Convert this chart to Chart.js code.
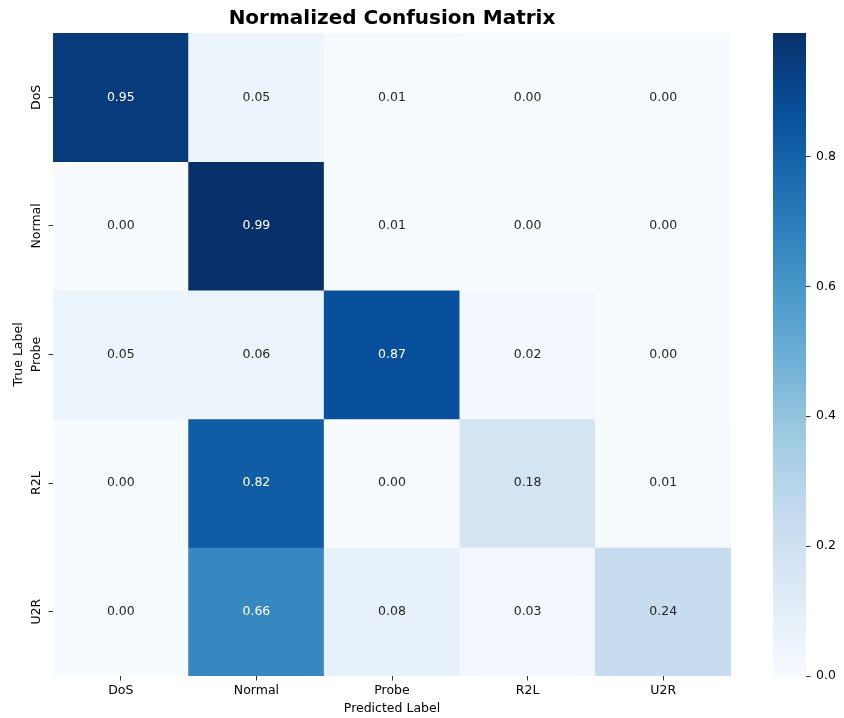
<!DOCTYPE html>
<html><head><meta charset="utf-8">
<script src="https://cdn.jsdelivr.net/npm/chart.js@4.4.1/dist/chart.umd.min.js"></script>
<style>
html,body{margin:0;padding:0;background:#fff;}
#wrap{position:relative;width:844px;height:718px;background:#fff;}
canvas{position:absolute;left:0;top:0;}
</style></head><body>
<div id="wrap"><canvas id="main" width="844" height="718"></canvas><canvas id="cbar" width="844" height="718"></canvas></div>
<script>
// ---- data ----
const predictedLabels = ['DoS', 'Normal', 'Probe', 'R2L', 'U2R'];
const trueLabels = ['DoS', 'Normal', 'Probe', 'R2L', 'U2R'];
const rowDoS    = [0.95, 0.05, 0.01, 0.00, 0.00];
const rowNormal = [0.00, 0.99, 0.01, 0.00, 0.00];
const rowProbe  = [0.05, 0.06, 0.87, 0.02, 0.00];
const rowR2L    = [0.00, 0.82, 0.00, 0.18, 0.01];
const rowU2R    = [0.00, 0.66, 0.08, 0.03, 0.24];
const colorbarTicks = [0.0, 0.2, 0.4, 0.6, 0.8];
const chartTitle = 'Normalized Confusion Matrix';
const xTitle = 'Predicted Label';
const yTitle = 'True Label';

const rows = [rowDoS, rowNormal, rowProbe, rowR2L, rowU2R];
const vmin = 0;
const vmax = Math.max(...rows.flat());

// ---- Blues colormap ----
const BLUES = ['#f7fbff','#deebf7','#c6dbef','#9ecae1','#6baed6','#4292c6','#2171b5','#08519c','#08306b'];
function hex2rgb(h){return [parseInt(h.slice(1,3),16),parseInt(h.slice(3,5),16),parseInt(h.slice(5,7),16)];}
const BLUES_RGB = BLUES.map(hex2rgb);
function blues(t){
  t = Math.max(0, Math.min(1, t));
  const p = t * (BLUES_RGB.length - 1);
  const i = Math.min(Math.floor(p), BLUES_RGB.length - 2);
  const f = p - i;
  const a = BLUES_RGB[i], b = BLUES_RGB[i+1];
  const c = a.map((v,k) => Math.round(v + (b[k]-v)*f));
  return 'rgb(' + c.join(',') + ')';
}
function lum(rgbStr){
  const c = rgbStr.match(/\d+/g).map(Number).map(v => {
    v /= 255; return v <= 0.03928 ? v/12.92 : Math.pow((v+0.055)/1.055, 2.4);
  });
  return 0.2126*c[0] + 0.7152*c[1] + 0.0722*c[2];
}
const FONT = 'DejaVu Sans';
const FS = 12.5;
const TL = 4.5;

// widest y tick label (for centering rotated labels)
const mctx = document.createElement('canvas').getContext('2d');
mctx.font = FS + 'px "' + FONT + '"';
const widestY = Math.max(...trueLabels.map(s => mctx.measureText(s).width));

const datasets = rows.map((vals, r) => ({
  label: trueLabels[r],
  values: vals,
  data: predictedLabels.map(() => [r, r + 1]),
  backgroundColor: vals.map(v => blues((v - vmin) / (vmax - vmin))),
  borderWidth: 0,
  barPercentage: 1,
  categoryPercentage: 1,
  grouped: false
}));

const annotate = {
  id: 'annotate',
  afterDatasetsDraw(chart){
    const ctx = chart.ctx;
    ctx.save();
    ctx.font = FS + 'px "' + FONT + '"';
    ctx.textAlign = 'center';
    ctx.textBaseline = 'middle';
    chart.data.datasets.forEach((ds, r) => {
      const meta = chart.getDatasetMeta(r);
      meta.data.forEach((bar, c) => {
        const col = ds.backgroundColor[c];
        ctx.fillStyle = lum(col) > 0.408 ? '#262626' : '#ffffff';
        ctx.fillText(ds.values[c].toFixed(2), bar.x, (bar.y + bar.base) / 2);
      });
    });
    ctx.restore();
  }
};

new Chart(document.getElementById('main'), {
  type: 'bar',
  data: { labels: predictedLabels, datasets },
  plugins: [annotate],
  options: {
    responsive: false, animation: false, devicePixelRatio: 1,
    layout: { padding: { left: 0, right: 113, top: 0, bottom: 0 } },
    plugins: {
      legend: { display: false },
      tooltip: { enabled: false },
      title: {
        display: true, text: chartTitle, fullSize: false, color: '#000',
        font: { family: FONT, size: 20, weight: 'bold' },
        padding: { top: 6.5, bottom: 2.5 }
      }
    },
    scales: {
      x: {
        type: 'category', offset: true,
        grid: { offset: false, drawOnChartArea: false, drawTicks: true, tickLength: TL, tickColor: '#333', tickWidth: 1 },
        border: { display: false },
        ticks: { color: '#000', font: { family: FONT, size: FS }, padding: 3, maxRotation: 0, minRotation: 0 },
        title: { display: true, text: xTitle, color: '#000', font: { family: FONT, size: FS }, padding: { top: 0, bottom: 2 } },
        afterFit: s => { s.height = 42; }
      },
      y: {
        type: 'linear', min: 0, max: 5, reverse: true,
        afterBuildTicks: s => { s.ticks = trueLabels.map((_, i) => ({ value: i + 0.5 })); },
        grid: { drawOnChartArea: false, drawTicks: true, tickLength: TL, tickColor: '#333', tickWidth: 1 },
        border: { display: false },
        ticks: {
          callback: (v, i) => trueLabels[i],
          color: '#000', font: { family: FONT, size: FS },
          minRotation: 90, maxRotation: 90, crossAlign: 'center',
          padding: 53 - TL - 37 - widestY / 2
        },
        title: { display: true, text: yTitle, color: '#000', font: { family: FONT, size: FS }, padding: { top: 11.2, bottom: 0 } },
        afterFit: s => { s.width = 53; }
      }
    }
  }
});

// ---- colorbar ----
new Chart(document.getElementById('cbar'), {
  type: 'bar',
  data: {
    labels: [''],
    datasets: [{
      data: [[vmin, vmax]],
      backgroundColor: (c) => {
        const ca = c.chart.chartArea;
        if (!ca) return BLUES[4];
        const g = c.chart.ctx.createLinearGradient(0, ca.bottom, 0, ca.top);
        BLUES.forEach((col, i) => g.addColorStop(i / (BLUES.length - 1), col));
        return g;
      },
      borderWidth: 0, barPercentage: 1, categoryPercentage: 1
    }]
  },
  options: {
    responsive: false, animation: false, devicePixelRatio: 1,
    layout: { padding: { left: 773, right: 0, top: 33, bottom: 42 } },
    plugins: { legend: { display: false }, tooltip: { enabled: false }, title: { display: false } },
    scales: {
      x: { display: false, offset: true },
      y: {
        type: 'linear', position: 'right', min: vmin, max: vmax,
        afterBuildTicks: s => { s.ticks = colorbarTicks.map(v => ({ value: v })); },
        grid: { drawOnChartArea: false, drawTicks: true, tickLength: TL, tickColor: '#333', tickWidth: 1 },
        border: { display: false },
        ticks: { callback: v => v.toFixed(1), color: '#000', font: { family: FONT, size: FS }, padding: 5.5 },
        afterFit: s => { s.width = 38; }
      }
    }
  }
});
</script>
</body></html>
